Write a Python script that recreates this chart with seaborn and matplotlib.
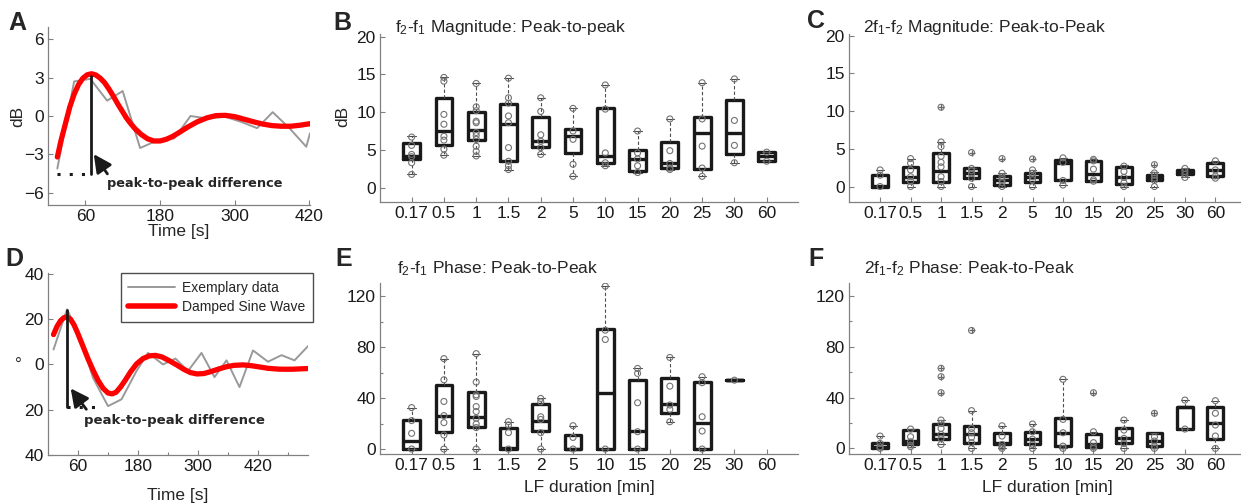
import numpy as np
import pandas as pd
import matplotlib
matplotlib.use('Agg')
import matplotlib.pyplot as plt
from matplotlib.lines import Line2D
from matplotlib.ticker import FixedLocator
import seaborn as sns

# ---------------- data ----------------
cats = ['0.17', '0.5', '1', '1.5', '2', '5', '10', '15', '20', '25', '30', '60']

# panel A: magnitude example (time [s], dB)
a_time = [15, 42, 68, 95, 120, 148, 176, 203, 229, 257, 284, 310, 336, 361, 388, 415, 421]
a_data = [-4.1, 2.7, 2.9, 1.2, 1.95, -2.5, -1.9, -1.75, 0.0, -0.2, -0.05, -0.45, -0.95, 0.3, -0.95, -2.4, -1.35]
a_fit_time = [15, 21, 28, 35, 42, 49, 56, 63, 70, 77, 84, 91, 98, 105, 112, 119, 126, 133, 140,
              150, 160, 170, 180, 190, 200, 212, 225, 240, 255, 270, 285, 300, 315, 330, 345,
              360, 375, 390, 405, 421]
a_fit = [-3.2, -1.9, -0.6, 0.7, 1.7, 2.45, 2.95, 3.22, 3.3, 3.2, 2.95, 2.6, 2.1, 1.55, 0.95, 0.4,
         -0.15, -0.6, -1.0, -1.45, -1.78, -1.95, -1.95, -1.82, -1.6, -1.25, -0.85, -0.45, -0.15,
         0.03, 0.05, -0.05, -0.25, -0.45, -0.63, -0.75, -0.8, -0.8, -0.72, -0.6]

# panel D: phase example (time [s], degrees)
d_time = [11, 38, 63, 90, 120, 147, 177, 200, 230, 255, 280, 307, 333, 357, 383, 410, 440, 467, 493, 520]
d_data = [6.6, 24.3, 13, -5.9, -18.4, -15.4, -2.9, 5.1, 0, 2.6, -2.9, 5.1, -5.6, 1.8, -10, 6.2, 1.2, 4.1, 1.8, 8.1]
d_fit_time = [11, 18, 25, 32, 38, 45, 52, 60, 70, 80, 90, 100, 110, 120, 128, 136, 145, 155, 165,
              177, 190, 203, 215, 228, 243, 258, 272, 285, 298, 312, 325, 340, 357, 372, 390,
              405, 423, 440, 463, 490, 520]
d_fit = [13.2, 16.8, 19.3, 20.7, 21.0, 20.0, 17.5, 13.5, 8.0, 2.5, -2.5, -7.0, -10.5, -12.6, -13.0,
         -12.3, -10.0, -6.8, -3.3, 0.2, 2.6, 3.8, 4.0, 3.3, 1.6, -0.3, -2.2, -3.6, -4.2, -4.0,
         -3.2, -2.1, -1.0, -0.4, -0.2, -0.5, -1.1, -1.7, -2.1, -2.1, -1.8]

# box statistics per LF duration: [lower whisker, q1, median, q3, upper whisker]
b_stats = [[1.75, 3.8, 4.2, 5.85, 6.8], [4.3, 5.7, 7.5, 11.9, 14.6], [4.2, 6.3, 7.6, 10.0, 13.8],
           [2.4, 3.5, 8.4, 11.1, 14.5], [4.4, 5.4, 6.15, 9.4, 11.9], [1.5, 4.6, 6.8, 7.8, 10.5],
           [2.9, 3.3, 4.2, 10.5, 13.6], [1.9, 2.2, 3.8, 5.05, 7.5], [2.4, 2.6, 3.2, 6.0, 9.1],
           [1.5, 2.5, 7.25, 9.4, 13.9], [3.3, 4.5, 7.25, 11.6, 14.4], [3.5, 3.5, 4.2, 4.7, 4.7]]
b_points = [[6.7, 5.6, 4.4, 4.1, 3.3, 1.75], [14.6, 14.1, 9.7, 8.4, 6.8, 6.3, 5.1, 4.3],
            [13.8, 10.7, 10.2, 8.8, 8.6, 7.3, 6.9, 6.4, 5.5, 4.8, 4.2],
            [14.5, 11.9, 11.2, 9.5, 8.6, 5.3, 3.5, 2.9, 2.4], [11.9, 10.1, 7.0, 6.15, 5.3, 4.4],
            [10.5, 7.5, 6.4, 3.1, 1.5], [13.6, 10.4, 4.6, 3.3, 2.9], [7.5, 4.6, 3.8, 2.9, 2.0],
            [9.1, 4.9, 3.2, 2.6, 2.4], [13.9, 9.1, 5.5, 2.6, 1.5], [14.4, 8.9, 5.6, 3.3], [4.7, 3.5]]
b_out = [[] for _ in cats]

c_stats = [[0, 0, 0.1, 1.55, 2.2], [0, 0.66, 1.3, 2.6, 3.7], [0, 0.66, 2.0, 4.5, 5.9],
           [0, 1.1, 1.76, 2.4, 2.4], [0, 0.2, 0.9, 1.4, 1.76], [0, 0.66, 1.3, 1.76, 2.2],
           [0.2, 0.8, 3.1, 3.5, 3.8], [0.7, 0.7, 1.6, 3.4, 3.6], [0, 0.4, 1.3, 2.6, 2.8],
           [0, 0.8, 1.1, 1.5, 1.9], [1.2, 1.6, 1.9, 2.2, 2.4], [1.1, 1.4, 2.2, 3.1, 3.4]]
c_points = [[2.2, 1.5, 0.0], [3.7, 3.1, 2.2, 1.3, 0.7, 0.0], [5.9, 5.3, 4.0, 3.2, 2.6, 1.3, 0.66, 0.0],
            [2.4, 2.1, 1.7, 1.1, 0.0], [1.76, 1.3, 0.9, 0.5, 0.0], [2.2, 1.76, 1.3, 0.9, 0.0],
            [3.8, 3.2, 0.8, 0.2], [3.6, 3.4, 2.3, 0.9, 0.7], [2.7, 2.0, 1.2, 0.5, 0.0],
            [1.8, 1.5, 1.1, 0.8, 0.0], [2.4, 2.0, 1.6, 1.2], [3.4, 2.2, 1.4, 1.1]]
c_out = [[], [], [10.5], [4.5], [3.7], [3.65], [], [], [], [2.9], [], []]

e_stats = [[0, 0, 6.6, 22.8, 32.5], [0, 13.6, 26.2, 50.4, 70.9], [0, 17.6, 25.5, 44.6, 74.8],
           [0, 0, 0.5, 16.8, 21.5], [0, 14.4, 22.2, 35.2, 39.7], [0, 0, 0.3, 11, 18.3],
           [0, 0, 43.6, 94.5, 127.7], [0, 0, 14.1, 54, 63.2], [21.4, 27.9, 35.2, 55.4, 71.8],
           [0, 0, 20.1, 52.7, 56.7], [54, 54, 54, 54, 54], []]
e_points = [[32.5, 22.3, 12.3, 0], [70.9, 54.3, 37.3, 26.2, 20.7, 11, 0],
            [74.8, 52.5, 42.5, 41.2, 33.3, 29.4, 24.1, 19.7, 16.8, 0], [21.5, 18.9, 12.9, 0],
            [39.7, 37, 25.3, 23.2, 12.8, 0], [18.3, 9.1, 0], [127.7, 93.2, 85.9, 0],
            [63.2, 59.3, 36.3, 13.6, 0], [71.8, 49.3, 34.5, 31.1, 21.4], [56.7, 52, 25.3, 14.1, 0],
            [54], []]
e_out = [[] for _ in cats]

f_stats = [[0, 0, 1.3, 4.5, 9.7], [1.3, 3.1, 6.0, 14.4, 15.2], [3.1, 7.3, 11.0, 19.2, 22.3],
           [0, 4.5, 11.3, 17.6, 29.7], [0, 3.1, 4.5, 12.3, 17.8], [0, 3.1, 7.3, 13.1, 19.2],
           [0, 1.8, 12.3, 23.6, 54.3], [0, 1.3, 3.4, 11.3, 13.1], [0, 3.9, 7.9, 16.3, 22.3],
           [0, 1.8, 5.8, 11.8, 11.8], [15.2, 15.2, 32.8, 32.8, 38], [0, 7.1, 20.2, 32.8, 37.5]]
f_points = [[9.7, 3.9, 1.3, 0], [15.2, 9.2, 5.2, 2.6, 1.3], [22.3, 19.7, 15.7, 11, 7.9, 3.1],
            [29.7, 15.7, 12.3, 8.7, 4.5, 0], [17.8, 9.7, 3.1, 1.3, 0], [19.2, 13.1, 7.3, 3.1, 0],
            [54.3, 22.8, 12.3, 1.8, 0], [13.1, 4.5, 1.3, 0], [22.3, 14.4, 7.9, 3.9, 0],
            [9.2, 5.8, 1.8, 0], [38, 15.2], [37.5, 27.6, 18.4, 9.7, 0]]
f_out = [[], [], [63, 56.4, 43.8], [92.7], [], [], [], [43.8], [], [27.6], [], []]

# ---------------- style ----------------
sns.set_theme(style='ticks')
plt.rcParams['font.family'] = ['Liberation Sans', 'DejaVu Sans']
plt.rcParams['mathtext.fontset'] = 'custom'
plt.rcParams['mathtext.rm'] = 'Liberation Sans'
plt.rcParams['mathtext.it'] = 'Liberation Sans:italic'
plt.rcParams['mathtext.bf'] = 'Liberation Sans:bold'

W, H = 1241, 504
FS = 12.5
fig = plt.figure(figsize=(W / 100, H / 100), dpi=100)


def rect(l, r, t, b):
    return [l / W, (H - b) / H, (r - l) / W, (b - t) / H]


def style(ax):
    sns.despine(ax=ax)
    for s in ['left', 'bottom']:
        ax.spines[s].set_color('0.5')
        ax.spines[s].set_linewidth(0.9)
    ax.tick_params(which='both', direction='in', width=0.8, color='0.5',
                   labelsize=FS, labelcolor='k', pad=3)
    ax.tick_params(which='major', length=3.5)
    ax.tick_params(which='minor', length=2.5)
    ax.set_facecolor('white')


def box_panel(ax, stats, points, outliers):
    rows = [(c, v) for c, s in zip(cats, stats) for v in s]
    df = pd.DataFrame(rows, columns=['cat', 'val'])
    sns.boxplot(data=df, x='cat', y='val', order=cats, whis=np.inf, width=0.52,
                fill=False, color='k', linewidth=2.4, showfliers=False,
                whiskerprops=dict(linestyle=(0, (3, 2)), linewidth=0.8, color='0.3'),
                capprops=dict(linewidth=0.8, color='0.3'),
                medianprops=dict(linewidth=2.4, color='k'), ax=ax)
    prow = [(c, v) for c, p, o in zip(cats, points, outliers) for v in p + o]
    pdf = pd.DataFrame(prow, columns=['cat', 'val'])
    n0 = len(ax.collections)
    sns.stripplot(data=pdf, x='cat', y='val', order=cats, jitter=False, size=4.3,
                  color='0.5', linewidth=0, ax=ax, zorder=4)
    for coll in ax.collections[n0:]:
        coll.set_facecolor('none')
        coll.set_edgecolor('0.45')
        coll.set_linewidth(0.8)
    orow = [(c, v) for c, o in zip(cats, outliers) for v in o]
    if orow:
        odf = pd.DataFrame(orow, columns=['cat', 'val'])
        n0 = len(ax.collections)
        sns.stripplot(data=odf, x='cat', y='val', order=cats, jitter=False, size=5,
                      marker='+', color='0.4', linewidth=0.9, ax=ax, zorder=4)
        for coll in ax.collections[n0:]:
            coll.set_edgecolor('0.4')
            coll.set_linewidth(0.9)
    ax.set_xlabel('')
    ax.set_ylabel('')
    style(ax)


# ---------------- panel A ----------------
ax = fig.add_axes(rect(48, 310, 27, 205))
sns.lineplot(x=a_time, y=a_data, color='0.6', lw=1.4, ax=ax)
sns.lineplot(x=a_fit_time, y=a_fit, color='red', lw=3.8, ax=ax, solid_joinstyle='round')
a_peak_t, a_peak, a_low = 68.5, 3.1, -4.5
ax.plot([a_peak_t, a_peak_t], [a_low, a_peak], color='k', lw=2)
ax.plot([a_time[0], a_peak_t], [a_low, a_low], color='k', lw=2.2, ls=(0, (1, 3)))
ax.annotate('', xy=(71, -2.8), xytext=(98, -4.7),
            arrowprops=dict(arrowstyle='-|>,head_length=0.9,head_width=0.45', color='k', lw=2))
ax.text(95, -5.25, 'peak-to-peak difference', fontsize=9.3, fontweight='bold',
        family='DejaVu Sans', va='center')
ax.set_xlim(0, 421)
ax.set_ylim(-6.95, 6.95)
ax.set_xticks([60, 180, 300, 420])
ax.set_yticks([-6, -3, 0, 3, 6])
ax.set_xlabel('Time [s]', fontsize=FS)
ax.xaxis.label.set_va('center')
ax.xaxis.set_label_coords(0.5, -0.15)
ax.set_ylabel('dB', fontsize=FS)
ax.yaxis.label.set_va('center')
ax.yaxis.set_label_coords(-0.115, 0.5)
style(ax)

# ---------------- panel D ----------------
ax = fig.add_axes(rect(48, 308, 273, 455))
sns.lineplot(x=d_time, y=d_data, color='0.6', lw=1.4, ax=ax)
sns.lineplot(x=d_fit_time, y=d_fit, color='red', lw=3.8, ax=ax, solid_joinstyle='round')
d_peak_t, d_peak, d_low = 38, 24, -19
ax.plot([d_peak_t, d_peak_t], [d_low, d_peak], color='k', lw=2)
ax.plot([d_peak_t, 100], [d_low, d_low], color='k', lw=2.2, ls=(0, (1, 3)))
ax.annotate('', xy=(42, -9.6), xytext=(80, -20.8),
            arrowprops=dict(arrowstyle='-|>,head_length=0.9,head_width=0.45', color='k', lw=2))
ax.text(73, -24.6, 'peak-to-peak difference', fontsize=9.5, fontweight='bold',
        family='DejaVu Sans', va='center')
ax.set_xlim(0, 520)
ax.set_ylim(-40, 40.4)
ax.set_xticks([60, 180, 300, 420])
ax.xaxis.set_minor_locator(FixedLocator([120, 240, 360, 480]))
ax.set_yticks([40, 20, 0, -20, -40])
ax.set_yticklabels(['40', '20', '0', '20', '40'])
ax.set_xlabel('Time [s]', fontsize=FS)
ax.xaxis.label.set_va('center')
ax.xaxis.set_label_coords(0.5, -0.22)
ax.set_ylabel('°', fontsize=FS, rotation=0)
ax.yaxis.label.set_va('center')
ax.yaxis.set_label_coords(-0.115, 0.495)
ax.legend(handles=[Line2D([], [], color='0.6', lw=1.4), Line2D([], [], color='red', lw=4)],
          labels=['Exemplary data', 'Damped Sine Wave'], loc='upper right',
          bbox_to_anchor=(1.02, 1.0), fontsize=10, frameon=True, fancybox=False,
          edgecolor='0.3', framealpha=1, handlelength=3.4, borderaxespad=0,
          borderpad=0.55, labelspacing=0.4, handletextpad=0.5)
style(ax)

# ---------------- panel B ----------------
ax = fig.add_axes(rect(380, 798, 34, 202))
box_panel(ax, b_stats, b_points, b_out)
ax.set_xlim(-0.98, 11.97)
ax.set_ylim(-1.9, 20.35)
ax.set_yticks([0, 5, 10, 15, 20])
ax.set_ylabel('dB', fontsize=FS)
ax.yaxis.label.set_va('center')
ax.yaxis.set_label_coords(-0.089, 0.51)
ax.text(0.036, 1.012, r'f$_2$-f$_1$ Magnitude: Peak-to-peak', transform=ax.transAxes,
        fontsize=FS, va='baseline')

# ---------------- panel C ----------------
ax = fig.add_axes(rect(849, 1241, 34, 202))
box_panel(ax, c_stats, c_points, c_out)
ax.set_xlim(-1.02, 11.84)
ax.set_ylim(-2.05, 20.2)
ax.set_yticks([0, 5, 10, 15, 20])
ax.text(0.036, 1.014, r'2f$_1$-f$_2$ Magnitude: Peak-to-Peak', transform=ax.transAxes,
        fontsize=FS, va='baseline')

# ---------------- panel E ----------------
ax = fig.add_axes(rect(380, 798, 283, 454))
box_panel(ax, e_stats, e_points, e_out)
ax.set_xlim(-0.98, 11.97)
ax.set_ylim(-3.9, 130.2)
ax.set_yticks([0, 40, 80, 120])
ax.yaxis.set_minor_locator(FixedLocator([20, 60, 100]))
ax.set_xlabel('LF duration [min]', fontsize=FS)
ax.xaxis.label.set_va('center')
ax.xaxis.set_label_coords(0.5, -0.193)
ax.text(0.04, 1.057, r'f$_2$-f$_1$ Phase: Peak-to-Peak', transform=ax.transAxes,
        fontsize=FS, va='baseline')

# ---------------- panel F ----------------
ax = fig.add_axes(rect(849, 1241, 283, 454))
box_panel(ax, f_stats, f_points, f_out)
ax.set_xlim(-1.02, 11.84)
ax.set_ylim(-4.4, 130)
ax.set_yticks([0, 40, 80, 120])
ax.yaxis.set_minor_locator(FixedLocator([20, 60, 100]))
ax.set_xlabel('LF duration [min]', fontsize=FS)
ax.xaxis.label.set_va('center')
ax.xaxis.set_label_coords(0.505, -0.193)
ax.text(0.037, 1.057, r'2f$_1$-f$_2$ Phase: Peak-to-Peak', transform=ax.transAxes,
        fontsize=FS, va='baseline')

# panel letters
for letter, x, y in [('A', 8, 30), ('B', 333, 30), ('C', 807, 28),
                     ('D', 5, 266), ('E', 335, 266), ('F', 808, 266)]:
    fig.text(x / W, (H - y) / H, letter, fontsize=18, fontweight='bold', va='baseline')

fig.savefig('out.png', dpi=100)
